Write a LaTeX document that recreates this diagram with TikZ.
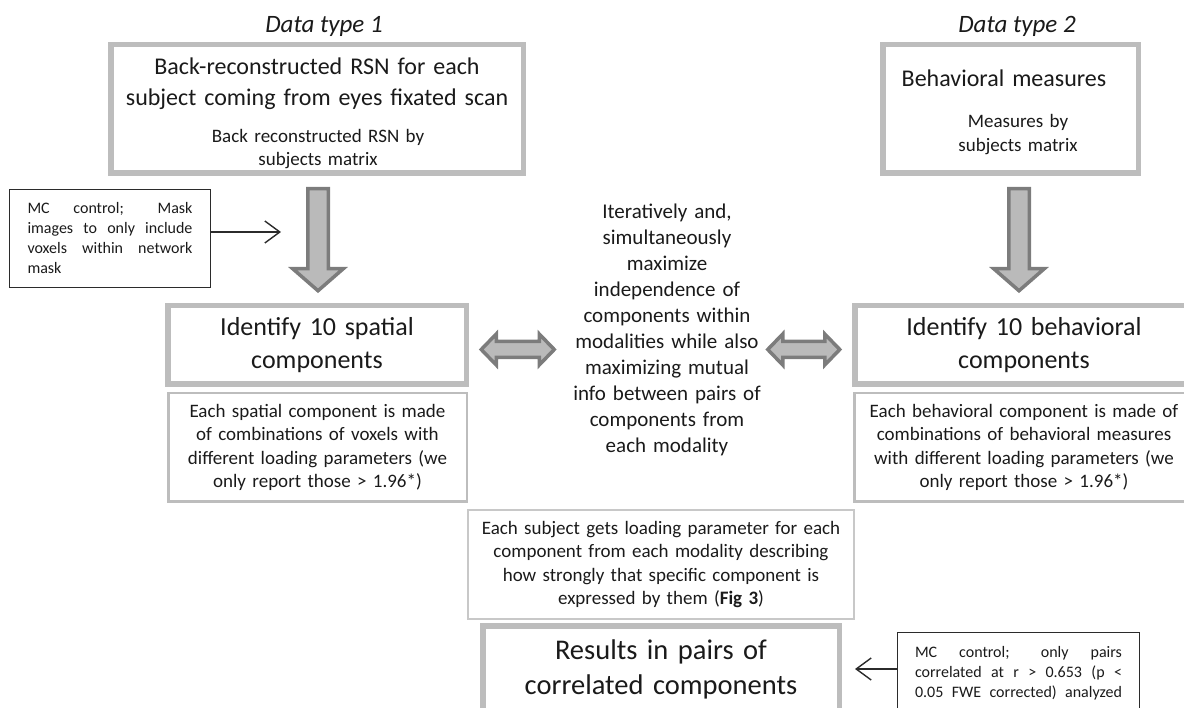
\documentclass[tikz,border=0pt]{standalone}
\usepackage{fontspec}
\setmainfont{Carlito}
\usetikzlibrary{arrows.meta,calc}
\definecolor{ink}{HTML}{1A1A1A}
\definecolor{boxgray}{HTML}{BDBDBD}
\definecolor{faintgray}{HTML}{C8C8C8}
\definecolor{notedark}{HTML}{2B2B2B}
\definecolor{arrowdark}{HTML}{7C7C7C}
\definecolor{arrowfill}{HTML}{BABABA}
\newcommand{\typefont}{\fontsize{25}{30}\selectfont\itshape}
\newcommand{\headfont}{\fontsize{24}{31}\selectfont}
\newcommand{\subfont}{\fontsize{19}{23.5}\selectfont}
\newcommand{\identfont}{\fontsize{26}{33}\selectfont}
\newcommand{\capfont}{\fontsize{19}{23.2}\selectfont}
\newcommand{\midfont}{\fontsize{21}{26}\selectfont}
\newcommand{\resfont}{\fontsize{28.5}{35}\selectfont}
\newcommand{\mcfont}{\fontsize{16}{20}\selectfont}
% fat down arrow: #1 shaft top, #2 tip
\newcommand{\blockdown}[2]{%
  \draw[blocktip] ($(#1)+(-10.25,0)$) -- ($(#2)+(-10.25,-22)$) -- ($(#2)+(-25.25,-22)$)
    -- (#2) -- ($(#2)+(25.25,-22)$) -- ($(#2)+(10.25,-22)$) -- ($(#1)+(10.25,0)$) -- cycle;}
% fat double arrow between two tips
\newcommand{\dblarrow}[2]{%
  \draw[blocktip] (#1) -- ($(#1)+(15,-15.5)$) -- ($(#1)+(15,-8)$) -- ($(#2)+(-15,-8)$)
    -- ($(#2)+(-15,-15.5)$) -- (#2) -- ($(#2)+(-15,15.5)$) -- ($(#2)+(-15,8)$)
    -- ($(#1)+(15,8)$) -- ($(#1)+(15,15.5)$) -- cycle;}

\begin{document}
\begin{tikzpicture}[
  x=1pt, y=-1pt,
  every node/.style={inner sep=0pt, outer sep=0pt, text=ink},
  heavybox/.style={draw=boxgray, line width=5.5pt, fill=white},
  lightbox/.style={draw=boxgray, line width=2.5pt},
  faintbox/.style={draw=faintgray, line width=1.6pt},
  notebox/.style={draw=notedark, line width=1.4pt},
  blocktip/.style={draw=arrowdark, fill=arrowfill, line width=3.5pt, line join=miter},
  thinarrow/.style={draw=notedark, line width=1.4pt, -{Straight Barb[length=15pt,width=22pt]}},
]
\useasboundingbox (0,0) rectangle (1184,708);

% column titles
\node[font=\typefont] (type1) at (324,26) {Data type 1};
\node[font=\typefont] (type2) at (1017,26) {Data type 2};

% input boxes
\node[heavybox, minimum width=412.5pt, minimum height=128.5pt] (top1) at (317,109) {};
\node[heavybox, minimum width=255.5pt, minimum height=128.5pt] (top2) at (1010.5,109) {};
\node[font=\headfont, text width=400pt, align=center] (top1head) at (317,83.5)
  {Back-reconstructed RSN for each\\ subject coming from eyes fixated scan};
\node[font=\subfont, text width=300pt, align=center] (top1sub) at (318,149)
  {Back reconstructed RSN by\\ subjects matrix};
\node[font=\headfont, text width=250pt, align=center] (top2head) at (1004,78)
  {Behavioral measures};
\node[font=\subfont, text width=200pt, align=center] (top2sub) at (1018,134.5)
  {Measures by\\ subjects matrix};

% component boxes
\node[heavybox, minimum width=298.5pt, minimum height=78.5pt, text width=290pt,
  align=center, font=\identfont] (id1) at (317,345) {Identify 10 spatial\\ components};
\node[heavybox, minimum width=338.5pt, minimum height=78.5pt, text width=300pt,
  align=center, font=\identfont] (id2) at (1024,345) {Identify 10 behavioral\\ components};
\node[lightbox, minimum width=298.5pt, minimum height=108.5pt, text width=290pt,
  align=center, font=\capfont] (cap1) at (317.5,447.5)
  {Each spatial component is made\\ of combinations of voxels with\\ different loading parameters (we\\ only report those > 1.96*)};
\node[lightbox, minimum width=339.5pt, minimum height=108.5pt, text width=330pt,
  align=center, font=\capfont] (cap2) at (1024,447.5)
  {Each behavioral component is made of\\ combinations of behavioral measures\\ with different loading parameters (we\\ only report those > 1.96*)};

% joint step
\node[font=\midfont, text width=220pt, align=center] (mid) at (667,330)
  {Iteratively and,\\ simultaneously\\ maximize\\ independence of\\ components within\\ modalities while also\\ maximizing mutual\\ info between pairs of\\ components from\\ each modality};
\node[faintbox, minimum width=386.4pt, minimum height=109.4pt, text width=380pt,
  align=center, font=\capfont] (each) at (661,564.5)
  {Each subject gets loading parameter for each\\ component from each modality describing\\ how strongly that specific component is\\ expressed by them (\textbf{Fig 3})};
\node[heavybox, minimum width=356.5pt, minimum height=87.5pt, text width=350pt,
  align=center, font=\resfont] (res) at (661,669.5)
  {Results in pairs of\\ correlated components};

% control notes
\node[notebox, minimum width=200.6pt, minimum height=97.6pt, text width=165pt,
  align=justify, font=\mcfont] (mc1) at (110,238.5)
  {\makebox[165pt][s]{MC control; Mask}\\ \makebox[165pt][s]{images to only include}\\
   \makebox[165pt][s]{voxels within network}\\ mask};
\node[notebox, minimum width=241.6pt, minimum height=80.6pt, text width=207pt,
  align=justify, font=\mcfont] (mc2) at (1018.5,673)
  {\makebox[207pt][s]{MC control; only pairs}\\ \makebox[207pt][s]{correlated at r > 0.653 (p <}\\
   \makebox[207pt][s]{0.05 FWE corrected) analyzed}};

% fat arrows
\coordinate (d1a) at ($(top1.south)+(1,15.5)$);
\coordinate (d1b) at ($(id1.north)+(1,-15)$);
\coordinate (d2a) at ($(top2.south)+(8.5,15.5)$);
\coordinate (d2b) at ($(id2.north)+(-5,-15)$);
\blockdown{d1a}{d1b}
\blockdown{d2a}{d2b}
\coordinate (l1) at ($(id1.east)+(15,4.5)$);
\coordinate (l2) at ($(id1.east)+(88,4.5)$);
\coordinate (r1) at ($(id2.west)+(-87,4.5)$);
\coordinate (r2) at ($(id2.west)+(-15,4.5)$);
\dblarrow{l1}{l2}
\dblarrow{r1}{r2}

% thin arrows
\coordinate (n1tip) at (281,232);
\coordinate (n2tip) at (855,669);
\draw[thinarrow] (mc1.east |- n1tip) -- (n1tip);
\draw[thinarrow] (mc2.west |- n2tip) -- (n2tip);

\end{tikzpicture}
\end{document}
